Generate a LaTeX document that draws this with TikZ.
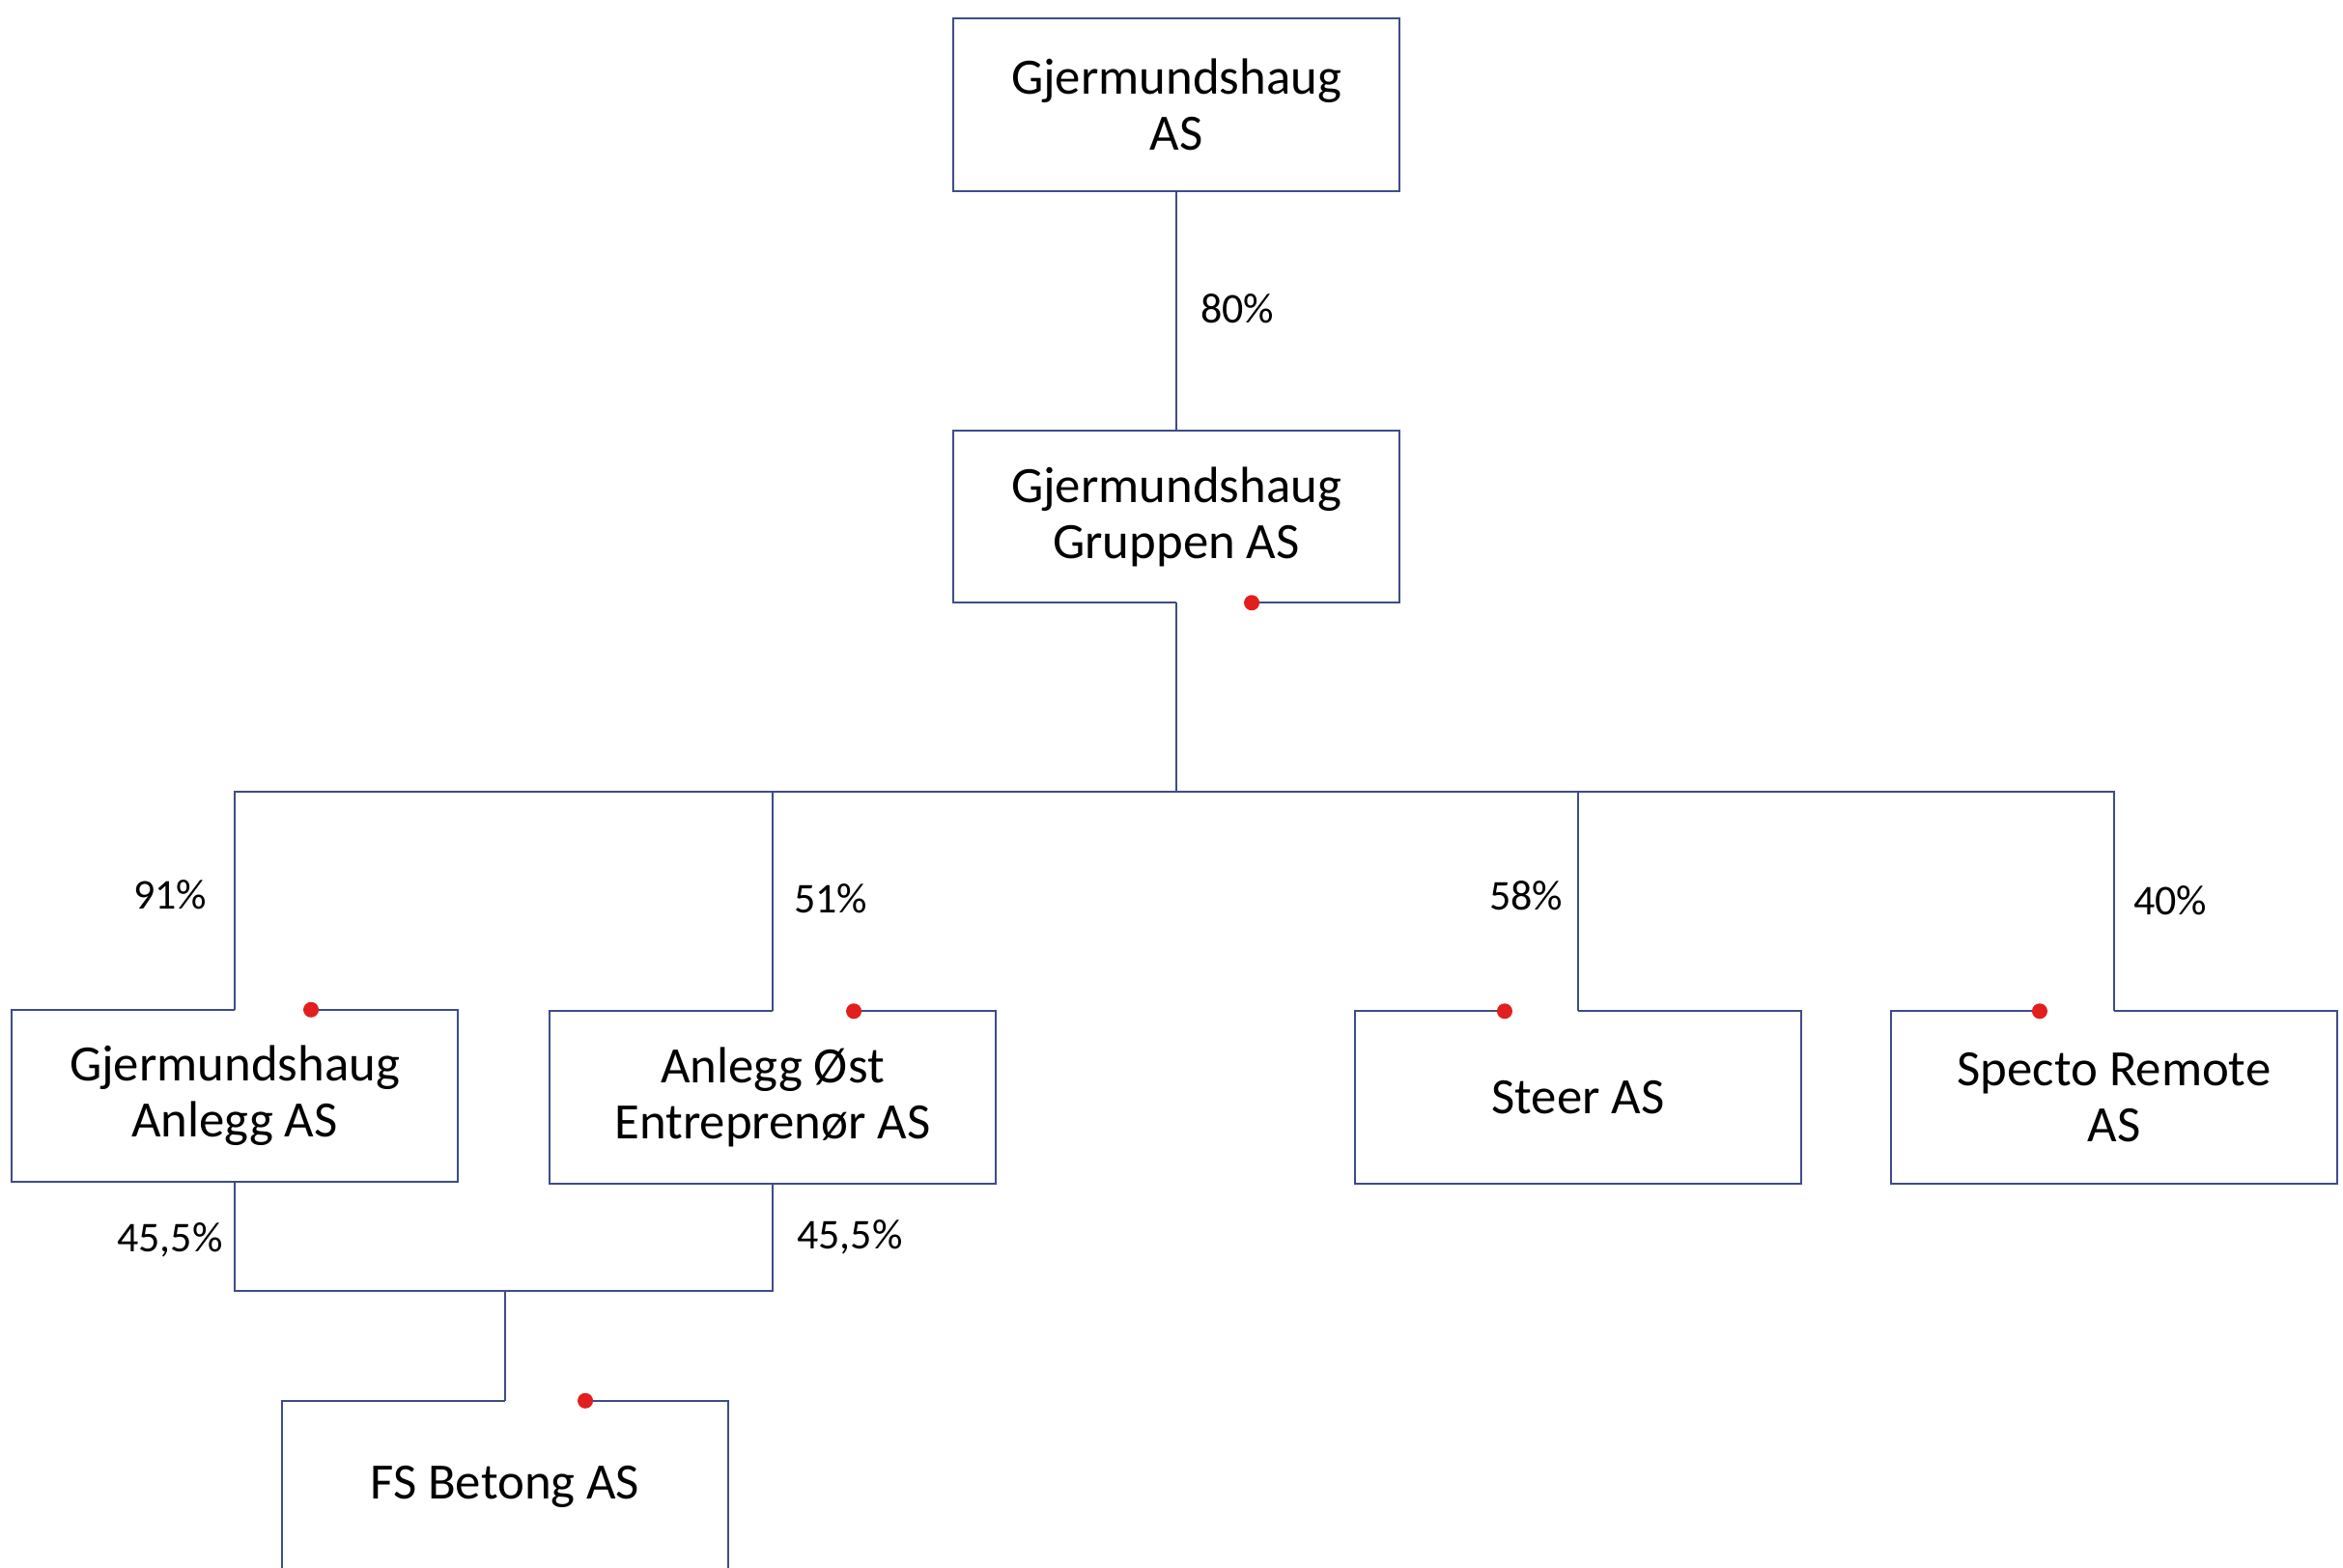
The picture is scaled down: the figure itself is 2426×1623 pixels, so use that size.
\documentclass[tikz,border=0pt]{standalone}
\usepackage{fontspec}
\setmainfont{Carlito}
\definecolor{edge}{RGB}{62,76,136}
\definecolor{dotred}{RGB}{226,30,30}
\begin{document}
\begin{tikzpicture}[x=0.01cm,y=-0.01cm,
  company/.style={minimum width=4.6cm,minimum height=1.77cm,inner sep=0pt,align=center,
    font=\fontsize{15}{16.5}\selectfont},
  border/.style={draw=edge,line width=0.65pt},
  link/.style={draw=edge,line width=0.65pt},
  pct/.style={inner sep=0pt,font=\fontsize{12.5}{14}\selectfont},
  handle/.style={fill=dotred}]
\useasboundingbox (0,0) rectangle (2426,1623);
\clip (0,0) rectangle (2426,1623);
\fill[white] (0,0) rectangle (2426,1623);

% companies
\node[company] (b1) at (1218,108.5) {Gjermundshaug\\AS};
\node[company] (b2) at (1218,535) {Gjermundshaug\\Gruppen AS};
\node[company] (b3) at (243,1135) {Gjermundshaug\\Anlegg AS};
\node[company] (b4) at (800,1136.5) {Anlegg Øst\\Entreprenør AS};
\node[company] (b5) at (1634,1136.5) {Steer AS};
\node[company] (b6) at (2189,1136.5) {Specto Remote\\AS};
\node[company] (b7) at (523,1540) {FS Betong AS};

% handle points
\coordinate (d2) at ([xshift=0.78cm]b2.south);
\coordinate (d3) at ([xshift=0.79cm]b3.north);
\coordinate (d4) at ([xshift=0.84cm]b4.north);
\coordinate (d5) at ([xshift=-0.76cm]b5.north);
\coordinate (d6) at ([xshift=-0.77cm]b6.north);
\coordinate (d7) at ([xshift=0.83cm]b7.north);

% borders
\draw[border] (b1.north west) rectangle (b1.south east);
\draw[border] (b2.south) -- (b2.south west) -- (b2.north west) -- (b2.north east) -- (b2.south east) -- (d2);
\draw[border] (d3) -- (b3.north east) -- (b3.south east) -- (b3.south west) -- (b3.north west) -- (b3.north);
\draw[border] (d4) -- (b4.north east) -- (b4.south east) -- (b4.south west) -- (b4.north west) -- (b4.north);
\draw[border] (b5.north) -- (b5.north east) -- (b5.south east) -- (b5.south west) -- (b5.north west) -- (d5);
\draw[border] (b6.north) -- (b6.north east) -- (b6.south east) -- (b6.south west) -- (b6.north west) -- (d6);
\draw[border] (d7) -- (b7.north east) -- (b7.south east) -- (b7.south west) -- (b7.north west) -- (b7.north);

% connectors
\coordinate (bus) at (1218,820);
\coordinate (low) at (523,1337);
\draw[link] (b1.south) -- (b2.north);
\draw[link] (b2.south) -- (bus);
\draw[link] (b3.north) |- (bus);
\draw[link] (b6.north) |- (bus);
\draw[link] (b4.north) -- (b4.north |- bus);
\draw[link] (b5.north) -- (b5.north |- bus);
\draw[link] (b3.south) |- (low);
\draw[link] (b4.south) |- (low);
\draw[link] (low) -- (b7.north);

% handles
\foreach \d in {d2,d3,d4,d5,d6,d7} \fill[handle] (\d) circle (0.08cm);

% ownership labels
\node[pct] (l1) at (1281,320) {80\%};
\node[pct] (l2) at (176,927) {91\%};
\node[pct] (l3) at (860,931) {51\%};
\node[pct] (l4) at (1580,928) {58\%};
\node[pct] (l5) at (2247,933) {40\%};
\node[pct] (l6) at (176,1284) {45,5\%};
\node[pct] (l7) at (880,1281) {45,5\%};
\end{tikzpicture}
\end{document}
